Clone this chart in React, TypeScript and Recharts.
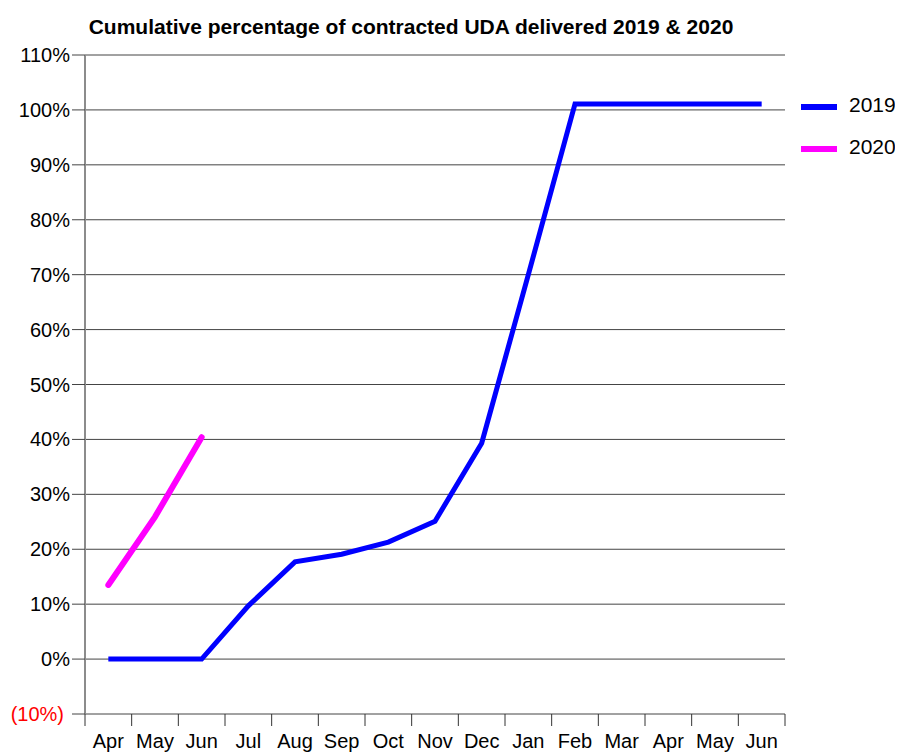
import React from 'react';
import { CartesianGrid, Line, LineChart, XAxis, YAxis } from 'recharts';

const months = ['Apr', 'May', 'Jun', 'Jul', 'Aug', 'Sep', 'Oct', 'Nov', 'Dec', 'Jan', 'Feb', 'Mar', 'Apr', 'May', 'Jun'];
const delivered2019 = [0, 0, 0, 9.7, 17.7, 19.1, 21.3, 25.1, 39.3, 70, 101.1, 101.1, 101.1, 101.1, 101.1];
const delivered2020 = [13.5, 25.9, 40.4];
const yTicks = [-10, 0, 10, 20, 30, 40, 50, 60, 70, 80, 90, 100, 110];

const FONT = '"Liberation Sans", Arial, sans-serif';
const PLOT_WIDTH = 700;
const BAND = PLOT_WIDTH / months.length;

const chartData = months.map((m, i) => ({
  i,
  month: m,
  y2019: delivered2019[i],
  y2020: i < delivered2020.length ? delivered2020[i] : undefined,
}));

const formatPct = (v: number) => (v < 0 ? `(${Math.abs(v)}%)` : `${v}%`);

const XTick = (props: any) => {
  const { x, y, payload } = props;
  const top = y - 12;
  const last = payload.value === months.length - 1;
  return (
    <g>
      <line x1={x - BAND / 2} x2={x - BAND / 2} y1={top} y2={top + 12} stroke="#333" />
      {last && <line x1={x + BAND / 2} x2={x + BAND / 2} y1={top} y2={top + 12} stroke="#333" />}
      <text x={x} y={y + 22} textAnchor="middle" fontSize={20} fontFamily={FONT} fill="#000">
        {months[payload.value]}
      </text>
    </g>
  );
};

// negative values are shown accounting-style, in red and nudged left
const YTick = (props: any) => {
  const { x, y, payload } = props;
  const neg = payload.value < 0;
  return (
    <text
      x={neg ? x - 6 : x}
      y={y + 7}
      textAnchor="end"
      fontSize={20}
      fontFamily={FONT}
      fill={neg ? '#ff0000' : '#000'}
    >
      {formatPct(payload.value)}
    </text>
  );
};

const legendItems = [
  { name: '2019', color: '#0000ff' },
  { name: '2020', color: '#ff00ff' },
];

const ChartLegend = () => (
  <div style={{ position: 'absolute', left: 793, top: 78, width: 110, fontFamily: FONT, whiteSpace: 'nowrap' }}>
    {legendItems.map(item => (
      <div key={item.name} style={{ display: 'flex', alignItems: 'center', height: 42 }}>
        <span style={{ display: 'inline-block', flexShrink: 0, width: 36, height: 6, background: item.color, marginRight: 12 }} />
        <span style={{ fontSize: 21, color: '#000', position: 'relative', top: -2 }}>{item.name}</span>
      </div>
    ))}
  </div>
);

export default function App() {
  return (
    <div style={{ position: 'relative', width: 895, height: 744 }}>
      <div
        style={{
          position: 'absolute',
          left: 0,
          top: 8,
          width: 806,
          textAlign: 'center',
          fontFamily: FONT,
          fontWeight: 'bold',
          fontSize: 21,
          lineHeight: '21px',
          color: '#000',
        }}
      >
        Cumulative percentage of contracted UDA delivered 2019 &amp; 2020
      </div>
      <LineChart width={895} height={744} data={chartData} margin={{ top: 47, right: 118, left: 0, bottom: 0 }}>
        <CartesianGrid vertical={false} stroke="#444" />
        <XAxis
          dataKey="i"
          type="category"
          interval={0}
          height={38}
          tickSize={12}
          tickMargin={0}
          tickLine={false}
          axisLine={false}
          padding={{ left: BAND / 2, right: BAND / 2 }}
          tick={<XTick />}
        />
        <YAxis
          domain={[-10, 110]}
          ticks={yTicks}
          width={77}
          tickSize={13}
          tickMargin={2}
          axisLine={{ stroke: '#8c8c8c', strokeWidth: 2 }}
          tickLine={{ stroke: '#444' }}
          tick={<YTick />}
          allowDataOverflow
        />
        <Line
          type="linear"
          dataKey="y2019"
          name="2019"
          stroke="#0000ff"
          strokeWidth={5}
          dot={false}
          activeDot={false}
          isAnimationActive={false}
        />
        <Line
          type="linear"
          dataKey="y2020"
          name="2020"
          stroke="#ff00ff"
          strokeWidth={6}
          strokeLinecap="round"
          dot={false}
          activeDot={false}
          isAnimationActive={false}
        />
      </LineChart>
      <ChartLegend />
    </div>
  );
}
